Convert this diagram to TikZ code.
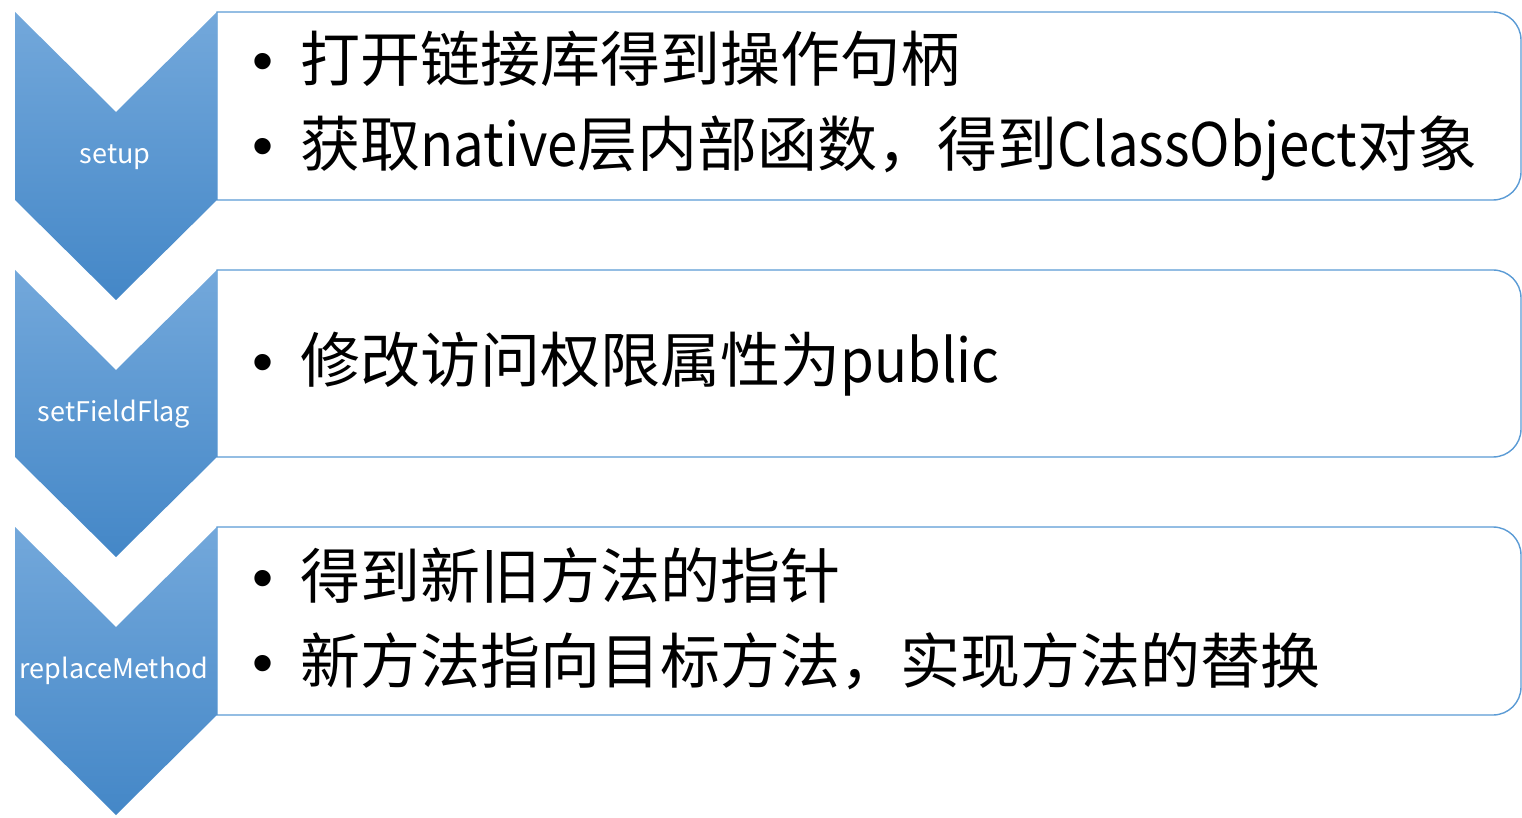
\documentclass[tikz,border=0pt]{standalone}
\usepackage{fontspec}
\setmainfont{Noto Sans CJK SC}
\newfontfamily\bulletfont{Liberation Sans}
\newfontfamily\narrowfont{Noto Sans CJK SC}[FakeStretch=0.91]
\usepackage{tikz}
\definecolor{chevtop}{HTML}{73A8DB}
\definecolor{chevbottom}{HTML}{4487C7}
\definecolor{boxedge}{HTML}{5B9BD5}
\newcommand{\bul}{\makebox[25pt][l]{\hspace{0.8pt}\bulletfont •}}
\newcommand{\lat}[1]{{\narrowfont #1}}

\begin{document}
\begin{tikzpicture}[x=0.5pt,y=-0.5pt,
    chevron/.style={top color=chevtop,bottom color=chevbottom,draw=none},
    stepbox/.style={draw=boxedge,line width=0.7pt,fill=white},
    chevlabel/.style={text=white,font=\fontsize{13.5}{16}\selectfont},
    item/.style={anchor=base west,inner sep=0pt,font=\fontsize{30}{36}\selectfont}]
            \useasboundingbox (0,0) rectangle (1522,818);
            % boxes
            \draw[stepbox] (217,200) -- (217,12) [rounded corners=14pt] -- (1521,12) -- (1521,200) [sharp corners] -- cycle;
            \draw[stepbox] (217,457) -- (217,270) [rounded corners=14pt] -- (1521,270) -- (1521,457) [sharp corners] -- cycle;
            \draw[stepbox] (217,715) -- (217,527) [rounded corners=14pt] -- (1521,527) -- (1521,715) [sharp corners] -- cycle;
            % chevrons
            \shade[chevron] (15,12) -- (116,112) -- (217,12) -- (217,200) -- (116,300) -- (15,200) -- cycle;
            \shade[chevron] (15,270) -- (116,370) -- (217,270) -- (217,457) -- (116,557) -- (15,457) -- cycle;
            \shade[chevron] (15,527) -- (116,627) -- (217,527) -- (217,715) -- (116,815) -- (15,715) -- cycle;
            \node[chevlabel] (setup) at (115,157) {setup};
            \node[chevlabel] (flag) at (114,414) {setFieldFlag};
            \node[chevlabel] (replace) at (114,671) {replaceMethod};
            % items
            \node[item] (open) at (250,82) {\bul 打开链接库得到操作句柄};
            \node[item] (native) at (250,167) {\bul 获取\lat{native}层内部函数，得到\lat{ClassObject}对象};
            \node[item] (public) at (250,383) {\bul 修改访问权限属性为\lat{public}};
            \node[item] (pointer) at (250,598) {\bul 得到新旧方法的指针};
            \node[item] (swap) at (250,683) {\bul 新方法指向目标方法，实现方法的替换};
        \end{tikzpicture}
\end{document}
